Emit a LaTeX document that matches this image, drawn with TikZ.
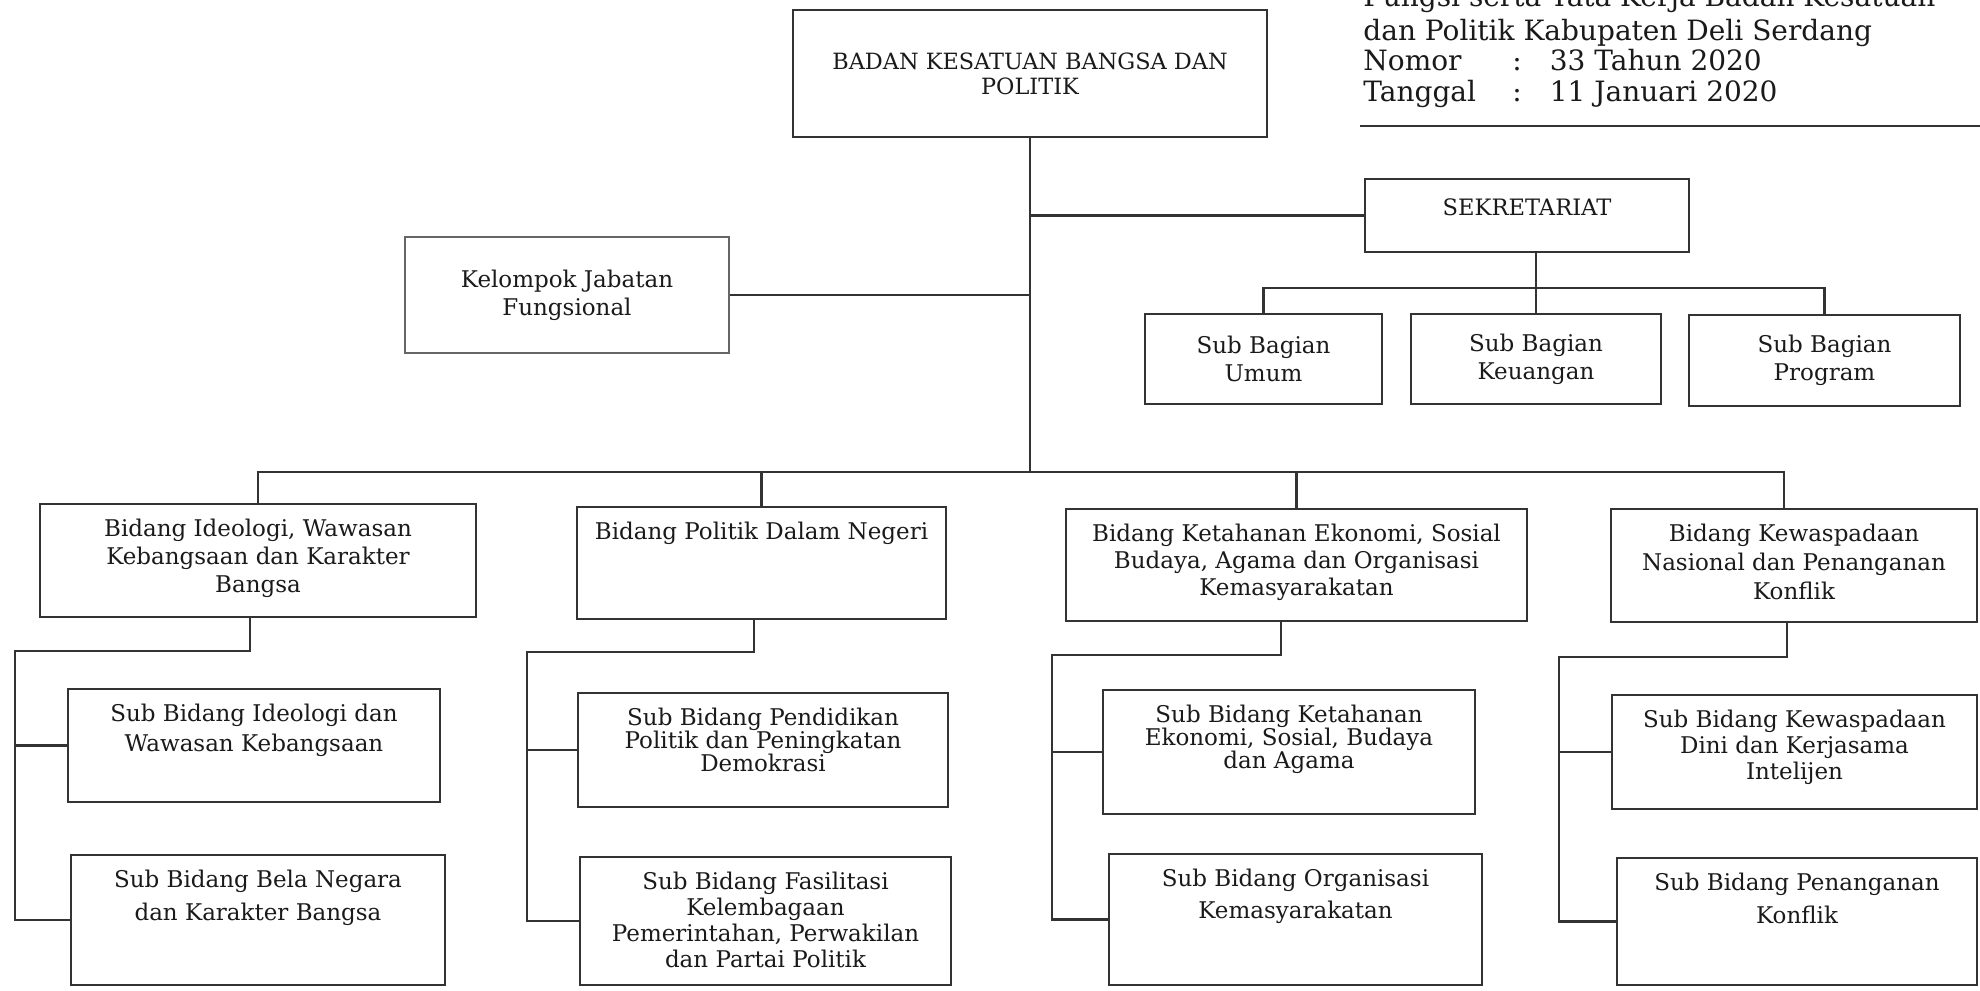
\documentclass[tikz,border=0pt]{standalone}
\usepackage{fontspec}
\setmainfont{DejaVu Serif}
\usetikzlibrary{fit}
\definecolor{ln}{HTML}{333333}
\definecolor{tx}{HTML}{1A1A1A}
\begin{document}
\begin{tikzpicture}[x=0.5pt,y=-0.5pt,
  box/.style={draw=ln, line width=1.4pt, inner sep=0pt},
  conn/.style={draw=ln, line width=1.4pt},
  ctext/.style={align=center, inner sep=0pt, text=tx, font=\fontsize{11.5}{#1}\selectfont},
  ctext/.default=14pt,
  toptext/.style={anchor=north, yshift=-8pt, inner sep=0pt, align=center, text=tx, font=\fontsize{11.5}{#1}\selectfont},
  toptext/.default=13pt,
  hdr/.style={anchor=base west, inner sep=0pt, font=\fontsize{14}{16}\selectfont, text=tx}]
\fill[white] (0,0) rectangle (1980,990);
\clip (0,0) rectangle (1980,990);

% header
\node[hdr] (h1) at (1363,7) {Fungsi serta Tata Kerja Badan Kesatuan};
\node[hdr] (h2) at (1363,41) {dan Politik Kabupaten Deli Serdang};
\node[hdr] (h3) at (1363,71) {Nomor};
\node[hdr] (h3c) at (1512,71) {:\quad 33 Tahun 2020};
\node[hdr] (h4) at (1363,102) {Tanggal};
\node[hdr] (h4c) at (1512,102) {:\quad 11 Januari 2020};
\coordinate (rl) at (1360,126);
\coordinate (rr) at (1980,126);
\draw[conn] (rl) -- (rr);

% top level
\node[box, fit={(793,10) (1267,137)},
  label={[ctext, font=\fontsize{11.2}{12.5}\selectfont]center:{BADAN KESATUAN BANGSA DAN\\POLITIK}}] (badan) {};
\node[box, fit={(1365,179) (1689,252)},
  label={[ctext, yshift=4pt, font=\fontsize{11.3}{12}\selectfont]center:{SEKRETARIAT}}] (sek) {};
\node[box, draw=ln!75, fit={(405,237) (729,353)},
  label={[ctext]center:{Kelompok Jabatan\\Fungsional}}] (kel) {};
\node[box, fit={(1145,314) (1382,404)},
  label={[ctext]center:{Sub Bagian\\Umum}}] (umum) {};
\node[box, fit={(1411,314) (1661,404)},
  label={[ctext]center:{Sub Bagian\\Keuangan}}] (keu) {};
\node[box, fit={(1689,315) (1960,406)},
  label={[ctext]center:{Sub Bagian\\Program}}] (prog) {};

% bidang
\node[box, fit={(40,504) (476,617)},
  label={[toptext=14pt]north:{Bidang Ideologi, Wawasan\\Kebangsaan dan Karakter\\Bangsa}}] (b1) {};
\node[box, fit={(577,507) (946,619)},
  label={[toptext]north:{Bidang Politik Dalam Negeri}}] (b2) {};
\node[box, fit={(1066,509) (1527,621)},
  label={[toptext=13.5pt]north:{Bidang Ketahanan Ekonomi, Sosial\\Budaya, Agama dan Organisasi\\Kemasyarakatan}}] (b3) {};
\node[box, fit={(1611,509) (1977,622)},
  label={[toptext=14.5pt]north:{Bidang Kewaspadaan\\Nasional dan Penanganan\\Konflik}}] (b4) {};

% sub bidang
\node[box, fit={(68,689) (440,802)},
  label={[toptext=15pt]north:{Sub Bidang Ideologi dan\\Wawasan Kebangsaan}}] (s11) {};
\node[box, fit={(71,855) (445,985)},
  label={[toptext=16.5pt]north:{Sub Bidang Bela Negara\\dan Karakter Bangsa}}] (s12) {};
\node[box, fit={(578,693) (948,807)},
  label={[toptext=11.5pt]north:{Sub Bidang Pendidikan\\Politik dan Peningkatan\\Demokrasi}}] (s21) {};
\node[box, fit={(580,857) (951,985)},
  label={[toptext=13pt]north:{Sub Bidang Fasilitasi\\Kelembagaan\\Pemerintahan, Perwakilan\\dan Partai Politik}}] (s22) {};
\node[box, fit={(1103,690) (1475,814)},
  label={[toptext=11.5pt]north:{Sub Bidang Ketahanan\\Ekonomi, Sosial, Budaya\\dan Agama}}] (s31) {};
\node[box, fit={(1109,854) (1482,985)},
  label={[toptext=16pt]north:{Sub Bidang Organisasi\\Kemasyarakatan}}] (s32) {};
\node[box, fit={(1612,695) (1977,809)},
  label={[toptext=13pt]north:{Sub Bidang Kewaspadaan\\Dini dan Kerjasama\\Intelijen}}] (s41) {};
\node[box, fit={(1617,858) (1977,985)},
  label={[toptext=16.5pt]north:{Sub Bidang Penanganan\\Konflik}}] (s42) {};

% connectors
\coordinate (bus) at (0,472);
\coordinate (sb) at (0,288);
\draw[conn] (badan.south) -- (badan.south |- bus);
\draw[conn] (sek.west) -- (sek.west -| badan.south);
\draw[conn] (kel.east) -- (kel.east -| badan.south);
\draw[conn] (keu.north) -- (keu.north |- sek.south);
\draw[conn] (umum.north) |- (prog.north |- sb) -- (prog.north);
\draw[conn] (b1.north) |- ([xshift=-5pt]b4.north |- bus) -- ([xshift=-5pt]b4.north);
\draw[conn] (b2.north) -- (b2.north |- bus);
\draw[conn] (b3.north) -- (b3.north |- bus);

\coordinate (j1) at (15,651);
\coordinate (j2) at (527,652);
\coordinate (j3) at (1052,655);
\coordinate (j4) at (1559,657);
\draw[conn] ([xshift=-4pt]b1.south) |- (j1) |- (s12.west);
\draw[conn] (s11.west) -- (s11.west -| j1);
\draw[conn] ([xshift=-3.75pt]b2.south) |- (j2) |- (s22.west);
\draw[conn] (s21.west) -- (s21.west -| j2);
\draw[conn] ([xshift=-7.75pt]b3.south) |- (j3) |- (s32.west);
\draw[conn] (s31.west) -- (s31.west -| j3);
\draw[conn] ([xshift=-3.5pt]b4.south) |- (j4) |- (s42.west);
\draw[conn] (s41.west) -- (s41.west -| j4);
\end{tikzpicture}
\end{document}
